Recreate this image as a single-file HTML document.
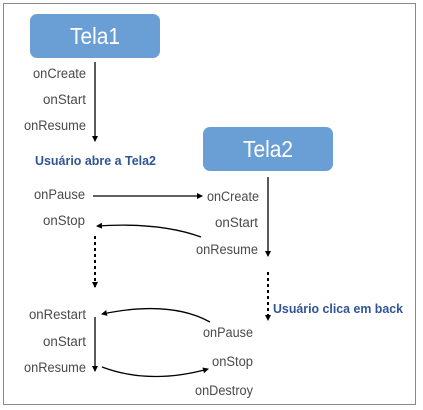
<!DOCTYPE html>
<html><head><meta charset="utf-8"><style>
html,body{margin:0;padding:0;background:#fff;width:423px;height:410px;overflow:hidden}
text{font-family:"Liberation Sans",sans-serif}
.l{font-size:13.5px;fill:#4a4a4a}
.b{font-size:13px;fill:#2f5597;font-weight:bold}
.t{font-size:23px;fill:#fff}
</style></head><body>
<svg width="423" height="410" viewBox="0 0 423 410">
<defs>
<marker id="a" markerWidth="6" markerHeight="6" refX="5" refY="3" orient="auto" markerUnits="userSpaceOnUse"><path d="M0,0 L6,3 L0,6 Z" fill="#000"/></marker>
</defs>
<rect x="3.5" y="3.5" width="412" height="401" fill="none" stroke="#888" stroke-width="1"/>
<rect x="30" y="14" width="130" height="44" rx="7" fill="#6a9fd6"/>
<text class="t" x="95" y="44" text-anchor="middle" textLength="50" lengthAdjust="spacingAndGlyphs">Tela1</text>
<rect x="203" y="127" width="130" height="44" rx="7" fill="#6a9fd6"/>
<text class="t" x="268" y="157" text-anchor="middle" textLength="50" lengthAdjust="spacingAndGlyphs">Tela2</text>

<text class="l" x="86" y="78" text-anchor="end" textLength="53" lengthAdjust="spacingAndGlyphs">onCreate</text>
<text class="l" x="86" y="104" text-anchor="end" textLength="43" lengthAdjust="spacingAndGlyphs">onStart</text>
<text class="l" x="86" y="130" text-anchor="end" textLength="62" lengthAdjust="spacingAndGlyphs">onResume</text>
<text class="l" x="34" y="199" textLength="51" lengthAdjust="spacingAndGlyphs">onPause</text>
<text class="l" x="207" y="201" textLength="52" lengthAdjust="spacingAndGlyphs">onCreate</text>
<text class="l" x="43" y="225" textLength="42" lengthAdjust="spacingAndGlyphs">onStop</text>
<text class="l" x="258" y="227" text-anchor="end" textLength="43" lengthAdjust="spacingAndGlyphs">onStart</text>
<text class="l" x="258" y="254" text-anchor="end" textLength="62" lengthAdjust="spacingAndGlyphs">onResume</text>
<text class="l" x="29" y="319" textLength="57" lengthAdjust="spacingAndGlyphs">onRestart</text>
<text class="l" x="86" y="346" text-anchor="end" textLength="43" lengthAdjust="spacingAndGlyphs">onStart</text>
<text class="l" x="24" y="372" textLength="62" lengthAdjust="spacingAndGlyphs">onResume</text>
<text class="l" x="203" y="337" textLength="50" lengthAdjust="spacingAndGlyphs">onPause</text>
<text class="l" x="212" y="366" textLength="41" lengthAdjust="spacingAndGlyphs">onStop</text>
<text class="l" x="195" y="395" textLength="58" lengthAdjust="spacingAndGlyphs">onDestroy</text>
<text class="b" x="35" y="165" textLength="121" lengthAdjust="spacingAndGlyphs">Usuário abre a Tela2</text>
<text class="b" x="273" y="313" textLength="130" lengthAdjust="spacingAndGlyphs">Usuário clica em back</text>

<g stroke="#000" stroke-width="1.3" fill="none">
<line x1="95" y1="62" x2="95" y2="141" marker-end="url(#a)"/>
<line x1="93" y1="196" x2="202" y2="196" marker-end="url(#a)"/>
<line x1="268" y1="177" x2="268" y2="256" marker-end="url(#a)"/>
<path d="M201,237 Q160,222 97,226" marker-end="url(#a)"/>
<line x1="95" y1="236" x2="95" y2="287" stroke-dasharray="3,3" stroke-width="2" marker-end="url(#a)"/>
<line x1="268" y1="272" x2="268" y2="320" stroke-dasharray="3,3" stroke-width="2" marker-end="url(#a)"/>
<path d="M210,322 Q170,300 102,314" marker-end="url(#a)"/>
<line x1="95" y1="317" x2="95" y2="371" marker-end="url(#a)"/>
<path d="M102,367 Q150,385 208,369" marker-end="url(#a)"/>
</g>
</svg>
</body></html>
